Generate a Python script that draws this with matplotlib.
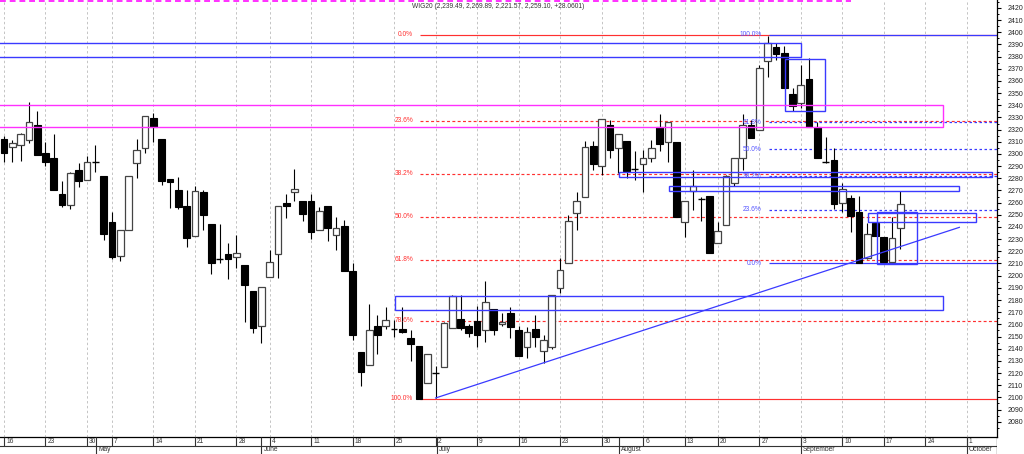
import matplotlib
matplotlib.use("Agg")
import matplotlib.pyplot as plt
from matplotlib.patches import Rectangle
import numpy as np

plt.rcParams['font.family'] = ['Liberation Sans', 'DejaVu Sans']

# WIG20 daily candles, 16 Apr - 19 Sep 2012 (trading days only)
opens = [2312, 2305.5, 2307, 2311.5, 2323.5, 2300.5, 2296.5, 2267.5, 2258, 2287,
         2278.5, 2293, 2281.5, 2244, 2216.5, 2237.5, 2292.5, 2304.5, 2329.5, 2312.5,
         2279.5, 2270.5, 2257.5, 2232.5, 2269, 2242.5, 2214, 2217.5, 2215.5, 2209,
         2187, 2158.5, 2198.5, 2217.5, 2260, 2268.5, 2261.5, 2261, 2237.5, 2257.5,
         2233.5, 2241, 2204, 2137.5, 2127, 2159, 2158.5, 2156, 2156.5, 2149,
         2142, 2111.5, 2120, 2125, 2157, 2164.5, 2158.5, 2163, 2155, 2172.5,
         2160.5, 2169.5, 2155.5, 2141.5, 2156, 2138.5, 2141.5, 2189.5, 2210, 2251.5,
         2265, 2306.5, 2290, 2324, 2304.5, 2310.5, 2287, 2291.5, 2296.5, 2322,
         2309.5, 2309.5, 2244, 2269.5, 2263.5, 2265.5, 2226.5, 2241.5, 2276.5, 2296.5,
         2324, 2320, 2376, 2387.5, 2383, 2349.5, 2341.5, 2362, 2322.5, 2293,
         2295, 2260, 2263.5, 2252.5, 2214.5, 2243, 2231.5, 2211, 2239.49]
highs = [2315, 2311.5, 2317.5, 2342.5, 2335, 2310, 2316, 2277.5, 2285, 2292.5,
         2298.5, 2307, 2281.5, 2252, 2237.5, 2282, 2312.5, 2331.5, 2334, 2312.5,
         2279.5, 2281, 2270.5, 2273.5, 2270.5, 2242.5, 2242.5, 2226.5, 2233.5, 2209,
         2187, 2191, 2221.5, 2257, 2267.5, 2288, 2261.5, 2267.5, 2256.5, 2257.5,
         2248, 2245.5, 2210, 2137.5, 2176.5, 2167.5, 2174.5, 2163.5, 2174.5, 2155.5,
         2142, 2136, 2126, 2162, 2184.5, 2184.5, 2160, 2175, 2195.5, 2172.5,
         2169, 2174.5, 2158.5, 2158, 2167.5, 2151, 2184, 2214.5, 2250, 2269,
         2310.5, 2310.5, 2328.5, 2328, 2316.5, 2310.5, 2302.5, 2303, 2311.5, 2332.5,
         2326.5, 2309.5, 2261.5, 2287, 2265, 2265.5, 2244, 2283, 2296.5, 2332.5,
         2328, 2373, 2397, 2391, 2388.5, 2354.5, 2373, 2378.5, 2326.5, 2314,
         2304.5, 2276, 2266.5, 2265.5, 2243, 2243, 2231.5, 2248.5, 2269.89]
lows = [2293, 2293, 2294.5, 2309, 2299, 2290, 2270.5, 2256.5, 2255, 2272.5,
        2278.5, 2285.5, 2229.5, 2213.5, 2212, 2237.5, 2280.5, 2301, 2310, 2274.5,
        2256, 2255, 2223.5, 2232.5, 2237.5, 2201, 2210, 2197, 2206, 2162,
        2152.5, 2145, 2198.5, 2198, 2247.5, 2261, 2245, 2230.5, 2237.5, 2228.5,
        2221, 2204, 2147, 2109.5, 2127, 2135.5, 2156, 2150, 2153, 2130,
        2099, 2111.5, 2099.5, 2125, 2157, 2155.5, 2149.5, 2141.5, 2145.5, 2151,
        2158.5, 2148.5, 2134, 2132.5, 2141.5, 2128, 2139.5, 2185.5, 2210, 2237.5,
        2265, 2287, 2282.5, 2296.5, 2284, 2280, 2279, 2269, 2293, 2302.5,
        2293.5, 2248, 2231.5, 2254, 2245, 2219, 2226.5, 2241.5, 2273.5, 2287,
        2313.5, 2320, 2363, 2377.5, 2354.5, 2335, 2338, 2322.5, 2296.5, 2292.5,
        2254.5, 2252.5, 2235.5, 2210.5, 2213.5, 2233, 2211, 2211, 2221.57]
closes = [2301, 2309, 2316.5, 2326, 2299, 2293, 2270.5, 2258, 2284, 2278,
          2293, 2293.5, 2234, 2215, 2237.5, 2282, 2303.5, 2331, 2322.5, 2278,
          2277, 2256.5, 2231, 2269.5, 2250, 2210, 2213.5, 2214, 2218.5, 2192,
          2157, 2191, 2211, 2257, 2257.5, 2271, 2251, 2235.5, 2253, 2239.5,
          2239, 2204, 2151.5, 2121, 2155, 2151.5, 2163.5, 2156.5, 2154, 2144,
          2099, 2136, 2120.5, 2161, 2183, 2157, 2152.5, 2151.5, 2178.5, 2155,
          2162, 2157.5, 2134, 2153.5, 2149.5, 2147, 2184, 2205, 2245, 2261.5,
          2306, 2291.5, 2328.5, 2303, 2316.5, 2286, 2287.5, 2296.5, 2304.5, 2308.5,
          2326.5, 2248, 2261.5, 2273.5, 2263, 2219, 2236.5, 2282, 2296.5, 2324,
          2313.5, 2371, 2391.5, 2382, 2354.5, 2339.5, 2357, 2322.5, 2296.5, 2293.5,
          2258.5, 2271, 2249, 2210.5, 2234.5, 2233, 2211.5, 2231.04, 2259.10]

day_ticks = [0, 5, 10, 13, 18, 23, 28, 32, 37, 42, 47, 52, 57, 62, 67, 72,
             77, 82, 86, 91, 96, 101, 106, 111, 116]
day_labels = ['16', '23', '30', '7', '14', '21', '28', '4', '11', '18', '25', '2',
              '9', '16', '23', '30', '6', '13', '20', '27', '3', '10', '17', '24', '1']
month_ticks = [11.1, 31, 52.2, 74.1, 96, 116]
month_labels = ['May', 'June', 'July', 'August', 'September', 'October']

# fibonacci retracements (red: July low -> August high, blue: August high -> September low)
fib_pcts = [0.0, 23.6, 38.2, 50.0, 61.8, 78.6, 100.0]
red_high, red_low = 2397.8, 2099.0
blue_pcts = [100.0, 61.8, 50.0, 38.2, 23.6, 0.0]
blue_high, blue_low = 2397.8, 2210.0

title = "WIG20 (2,239.49, 2,269.89, 2,221.57, 2,259.10, +28.0601)"

BLUE = '#3a3aff'
RED = '#ff3030'
MAGENTA = '#ff30ff'
XMIN, XMAX = -0.48, 119.6
YMIN, YMAX = 2067.2, 2426.5
DASH = (0, (2.5, 2))

fig = plt.figure(figsize=(10.24, 4.54), dpi=100)
ax = fig.add_axes([0, 16.7 / 454, 996.7 / 1024, 437.3 / 454])
ax.set_xlim(XMIN, XMAX)
ax.set_ylim(YMIN, YMAX)

for s in ['left', 'top']:
    ax.spines[s].set_visible(False)
ax.spines['right'].set_linewidth(0.9)
ax.spines['bottom'].set_linewidth(0.9)
ax.set_xticks([])
ax.yaxis.tick_right()
ax.set_yticks(np.arange(2080, 2421, 10))
ax.set_yticks(np.arange(2075, 2426, 10), minor=True)
ax.tick_params(axis='y', which='major', length=3, width=0.8, pad=5, labelsize=5, labelcolor='#222222')
ax.tick_params(axis='y', which='minor', length=1.5, width=0.7)

# vertical grid at week starts
for t in day_ticks:
    ax.axvline(t, color='#c4c4c4', lw=0.7, linestyle=(0, (2.5, 2.5)), zorder=0)

# candles
w = 0.8
for i in range(len(opens)):
    o, h, l, c = opens[i], highs[i], lows[i], closes[i]
    ax.vlines(i, l, h, color='black', lw=0.8, zorder=3)
    lo, hi = min(o, c), max(o, c)
    if hi - lo < 1:
        ax.hlines((o + c) / 2, i - w / 2, i + w / 2, color='black', lw=1.0, zorder=4)
    elif c >= o:
        ax.add_patch(Rectangle((i - w / 2, lo), w, hi - lo, facecolor='white',
                               edgecolor='#444444', lw=0.9, zorder=4))
    else:
        ax.add_patch(Rectangle((i - w / 2, lo), w, hi - lo, facecolor='black',
                               edgecolor='black', lw=0.8, zorder=4))

# red fib levels
for p in fib_pcts:
    lvl = red_high - (red_high - red_low) * p / 100
    ls = '-' if p in (0.0, 100.0) else DASH
    ax.hlines(lvl, 50.1, XMAX, color=RED, lw=0.85, linestyles=[ls], zorder=2)
    ax.text(49.3, lvl, f"{p:.1f}%", color=RED, fontsize=4.8, ha='right', va='center', zorder=6)

# blue fib levels
for p in blue_pcts:
    lvl = blue_low + (blue_high - blue_low) * p / 100
    ls = '-' if p in (0.0, 100.0) else (0, (2, 2))
    ax.hlines(lvl, 92.2, XMAX, color=BLUE, lw=0.9, linestyles=[ls], zorder=2)
    ax.text(91.3, lvl, f"{p:.1f}%", color='#5555ff', fontsize=4.8, ha='right', va='center', zorder=6)

# zones drawn on the chart
zones = [
    (XMIN - 1, 96.0, 2379.4, 2390.9, BLUE),
    (94.1, 98.9, 2335.1, 2377.8, BLUE),
    (XMIN - 1, 113.1, 2322.4, 2340.0, MAGENTA),
    (74.1, 119.0, 2280.8, 2285.0, BLUE),
    (80.1, 115.1, 2269.7, 2273.9, BLUE),
    (104.1, 117.1, 2244.1, 2251.2, BLUE),
    (105.2, 110.0, 2209.6, 2252.6, BLUE),
    (47.1, 113.1, 2172.0, 2183.0, BLUE),
]
for x0, x1, y0, y1, col in zones:
    ax.add_patch(Rectangle((x0, y0), x1 - x0, y1 - y0, fill=False, edgecolor=col,
                           lw=1.0, zorder=5))

# support trend line from the July low
ax.plot([52.0, 115.1], [2099.5, 2239.7], color=BLUE, lw=0.9, zorder=5)

# magenta dashed line along the top
ax.hlines(2425.9, XMIN, 102, color=MAGENTA, lw=1.4, linestyles=[(0, (3, 2))], zorder=5)

fig.text(412 / 1024, 448 / 454, title, fontsize=4.8, color='#333333', va='center', ha='left')

# date rows under the chart
bx = fig.add_axes([0, 0, 996.7 / 1024, 16.7 / 454])
bx.set_xlim(XMIN, XMAX)
bx.set_ylim(0, 1)
bx.axis('off')
bx.axhline(0.5, color='#333333', lw=0.8)
bx.axvline(XMAX, color='black', lw=0.9)
for t, lab in zip(day_ticks, day_labels):
    bx.vlines(t, 0.5, 1, color='#333333', lw=0.8)
    bx.text(t + 0.25, 0.74, lab, fontsize=4.8, color='#333333', ha='left', va='center')
for t, lab in zip(month_ticks, month_labels):
    bx.vlines(t, 0, 1, color='#333333', lw=0.8)
    bx.text(t + 0.25, 0.24, lab, fontsize=4.8, color='#333333', ha='left', va='center')

fig.savefig("out.png", dpi=100)
